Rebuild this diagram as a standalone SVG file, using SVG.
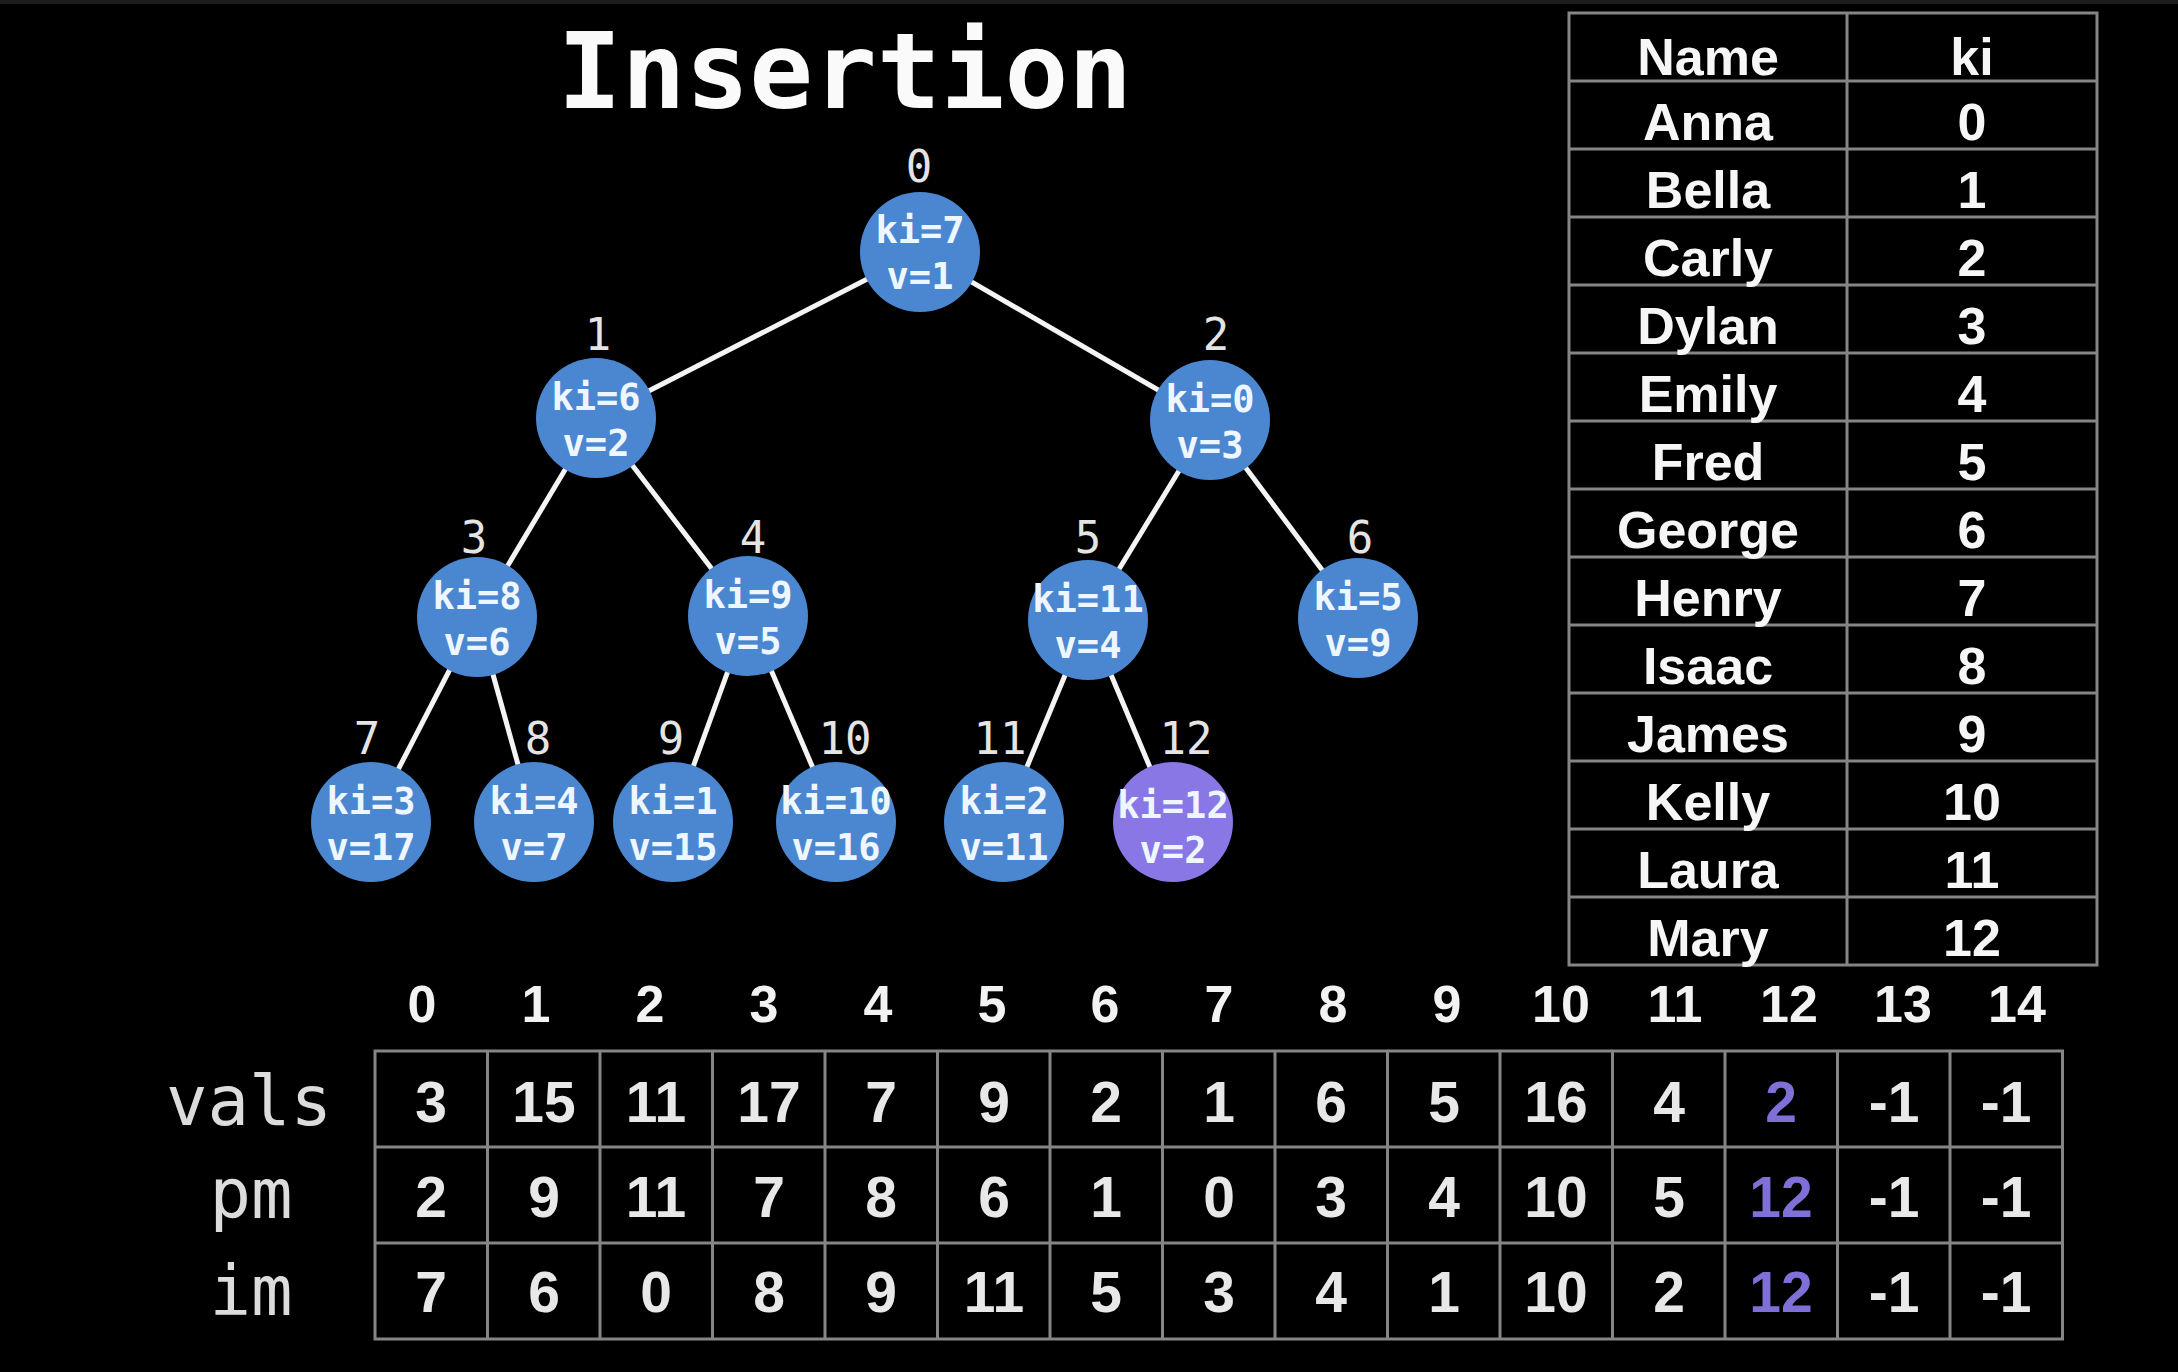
<svg xmlns="http://www.w3.org/2000/svg" width="2178" height="1372" viewBox="0 0 2178 1372">
<style>
.bg{fill:#000}
.title{font-family:"DejaVu Sans Mono","Liberation Mono",monospace;font-weight:bold;font-size:106px;fill:#fafafa;text-anchor:middle}
.edge{stroke:#f4f4f4;stroke-width:5;fill:none}
.node{fill:#4A87D0}
.node.hi{fill:#8877E4}
.nt{font-family:"DejaVu Sans Mono","Liberation Mono",monospace;font-weight:bold;font-size:37px;fill:#eef6ff;text-anchor:middle}
.idx{font-family:"DejaVu Sans Mono","Liberation Mono",monospace;font-size:44px;fill:#e4e4e4;text-anchor:middle}
.grid{stroke:#858585;stroke-width:3;fill:none}
.tt{font-family:"Liberation Sans",Arial,sans-serif;font-weight:bold;font-size:52px;fill:#f6f6f6;text-anchor:middle}
.rl{font-family:"DejaVu Sans Mono","Liberation Mono",monospace;font-size:69px;fill:#dcdcdc;text-anchor:middle}
.ai{font-family:"Liberation Sans",Arial,sans-serif;font-weight:bold;font-size:52px;fill:#f2f2f2;text-anchor:middle}
.av{font-family:"Liberation Sans",Arial,sans-serif;font-weight:bold;font-size:57px;fill:#e8e8e8;text-anchor:middle}
.pu{fill:#7F70D8}
</style>
<rect class="bg" x="0" y="0" width="2178" height="1372"/>
<rect x="0" y="0" width="2178" height="4" fill="#1c1c1c"/>
<g id="title"><text class="title" x="845" y="108">Insertion</text></g>
<g id="connectors">
<line class="edge" x1="920" y1="252" x2="596" y2="418"/>
<line class="edge" x1="920" y1="252" x2="1210" y2="420"/>
<line class="edge" x1="596" y1="418" x2="477" y2="617"/>
<line class="edge" x1="596" y1="418" x2="748" y2="616"/>
<line class="edge" x1="1210" y1="420" x2="1088" y2="620"/>
<line class="edge" x1="1210" y1="420" x2="1358" y2="618"/>
<line class="edge" x1="477" y1="617" x2="371" y2="822"/>
<line class="edge" x1="477" y1="617" x2="534" y2="822"/>
<line class="edge" x1="748" y1="616" x2="673" y2="822"/>
<line class="edge" x1="748" y1="616" x2="836" y2="822"/>
<line class="edge" x1="1088" y1="620" x2="1004" y2="822"/>
<line class="edge" x1="1088" y1="620" x2="1173" y2="822"/>
</g>
<g id="node-0"><text class="idx" x="919" y="182">0</text><circle class="node" cx="920" cy="252" r="60"/><text class="nt" x="920" y="243">ki=7</text><text class="nt" x="920" y="289">v=1</text></g>
<g id="node-1"><text class="idx" x="598" y="350">1</text><circle class="node" cx="596" cy="418" r="60"/><text class="nt" x="596" y="410">ki=6</text><text class="nt" x="596" y="456">v=2</text></g>
<g id="node-2"><text class="idx" x="1216" y="350">2</text><circle class="node" cx="1210" cy="420" r="60"/><text class="nt" x="1210" y="412">ki=0</text><text class="nt" x="1210" y="458">v=3</text></g>
<g id="node-3"><text class="idx" x="474" y="553">3</text><circle class="node" cx="477" cy="617" r="60"/><text class="nt" x="477" y="609">ki=8</text><text class="nt" x="477" y="655">v=6</text></g>
<g id="node-4"><text class="idx" x="753" y="553">4</text><circle class="node" cx="748" cy="616" r="60"/><text class="nt" x="748" y="608">ki=9</text><text class="nt" x="748" y="654">v=5</text></g>
<g id="node-5"><text class="idx" x="1088" y="553">5</text><circle class="node" cx="1088" cy="620" r="60"/><text class="nt" x="1088" y="612">ki=11</text><text class="nt" x="1088" y="658">v=4</text></g>
<g id="node-6"><text class="idx" x="1360" y="553">6</text><circle class="node" cx="1358" cy="618" r="60"/><text class="nt" x="1358" y="610">ki=5</text><text class="nt" x="1358" y="656">v=9</text></g>
<g id="node-7"><text class="idx" x="367" y="754">7</text><circle class="node" cx="371" cy="822" r="60"/><text class="nt" x="371" y="814">ki=3</text><text class="nt" x="371" y="860">v=17</text></g>
<g id="node-8"><text class="idx" x="538" y="754">8</text><circle class="node" cx="534" cy="822" r="60"/><text class="nt" x="534" y="814">ki=4</text><text class="nt" x="534" y="860">v=7</text></g>
<g id="node-9"><text class="idx" x="671" y="754">9</text><circle class="node" cx="673" cy="822" r="60"/><text class="nt" x="673" y="814">ki=1</text><text class="nt" x="673" y="860">v=15</text></g>
<g id="node-10"><text class="idx" x="845" y="754">10</text><circle class="node" cx="836" cy="822" r="60"/><text class="nt" x="836" y="814">ki=10</text><text class="nt" x="836" y="860">v=16</text></g>
<g id="node-11"><text class="idx" x="1000" y="754">11</text><circle class="node" cx="1004" cy="822" r="60"/><text class="nt" x="1004" y="814">ki=2</text><text class="nt" x="1004" y="860">v=11</text></g>
<g id="node-12"><text class="idx" x="1186" y="754">12</text><circle class="node hi" cx="1173" cy="822" r="60"/><text class="nt" x="1173" y="818">ki=12</text><text class="nt" x="1173" y="863">v=2</text></g>
<g id="name-table">
<rect class="grid" x="1569" y="13" width="528" height="952"/>
<line class="grid" x1="1847" y1="13" x2="1847" y2="965"/>
<line class="grid" x1="1569" y1="81" x2="2097" y2="81"/>
<line class="grid" x1="1569" y1="149" x2="2097" y2="149"/>
<line class="grid" x1="1569" y1="217" x2="2097" y2="217"/>
<line class="grid" x1="1569" y1="285" x2="2097" y2="285"/>
<line class="grid" x1="1569" y1="353" x2="2097" y2="353"/>
<line class="grid" x1="1569" y1="421" x2="2097" y2="421"/>
<line class="grid" x1="1569" y1="489" x2="2097" y2="489"/>
<line class="grid" x1="1569" y1="557" x2="2097" y2="557"/>
<line class="grid" x1="1569" y1="625" x2="2097" y2="625"/>
<line class="grid" x1="1569" y1="693" x2="2097" y2="693"/>
<line class="grid" x1="1569" y1="761" x2="2097" y2="761"/>
<line class="grid" x1="1569" y1="829" x2="2097" y2="829"/>
<line class="grid" x1="1569" y1="897" x2="2097" y2="897"/>
<text class="tt" x="1708" y="75">Name</text><text class="tt" x="1972" y="75">ki</text>
<text class="tt" x="1708" y="140">Anna</text><text class="tt" x="1972" y="140">0</text>
<text class="tt" x="1708" y="208">Bella</text><text class="tt" x="1972" y="208">1</text>
<text class="tt" x="1708" y="276">Carly</text><text class="tt" x="1972" y="276">2</text>
<text class="tt" x="1708" y="344">Dylan</text><text class="tt" x="1972" y="344">3</text>
<text class="tt" x="1708" y="412">Emily</text><text class="tt" x="1972" y="412">4</text>
<text class="tt" x="1708" y="480">Fred</text><text class="tt" x="1972" y="480">5</text>
<text class="tt" x="1708" y="548">George</text><text class="tt" x="1972" y="548">6</text>
<text class="tt" x="1708" y="616">Henry</text><text class="tt" x="1972" y="616">7</text>
<text class="tt" x="1708" y="684">Isaac</text><text class="tt" x="1972" y="684">8</text>
<text class="tt" x="1708" y="752">James</text><text class="tt" x="1972" y="752">9</text>
<text class="tt" x="1708" y="820">Kelly</text><text class="tt" x="1972" y="820">10</text>
<text class="tt" x="1708" y="888">Laura</text><text class="tt" x="1972" y="888">11</text>
<text class="tt" x="1708" y="956">Mary</text><text class="tt" x="1972" y="956">12</text>
</g>
<g id="array-table">
<text class="rl" x="249" y="1125">vals</text>
<text class="rl" x="251" y="1218">pm</text>
<text class="rl" x="251" y="1315">im</text>
<g id="array-index">
<text class="ai" x="422" y="1022">0</text><text class="ai" x="536" y="1022">1</text><text class="ai" x="650" y="1022">2</text><text class="ai" x="764" y="1022">3</text><text class="ai" x="878" y="1022">4</text><text class="ai" x="992" y="1022">5</text><text class="ai" x="1105" y="1022">6</text><text class="ai" x="1219" y="1022">7</text><text class="ai" x="1333" y="1022">8</text><text class="ai" x="1447" y="1022">9</text><text class="ai" x="1561" y="1022">10</text><text class="ai" x="1675" y="1022">11</text><text class="ai" x="1789" y="1022">12</text><text class="ai" x="1903" y="1022">13</text><text class="ai" x="2017" y="1022">14</text>
</g>
<rect class="grid" x="375" y="1051" width="1687.5" height="288"/>
<line class="grid" x1="375" y1="1147" x2="2062.5" y2="1147"/>
<line class="grid" x1="375" y1="1243" x2="2062.5" y2="1243"/>
<line class="grid" x1="487.5" y1="1051" x2="487.5" y2="1339"/>
<line class="grid" x1="600" y1="1051" x2="600" y2="1339"/>
<line class="grid" x1="712.5" y1="1051" x2="712.5" y2="1339"/>
<line class="grid" x1="825" y1="1051" x2="825" y2="1339"/>
<line class="grid" x1="937.5" y1="1051" x2="937.5" y2="1339"/>
<line class="grid" x1="1050" y1="1051" x2="1050" y2="1339"/>
<line class="grid" x1="1162.5" y1="1051" x2="1162.5" y2="1339"/>
<line class="grid" x1="1275" y1="1051" x2="1275" y2="1339"/>
<line class="grid" x1="1387.5" y1="1051" x2="1387.5" y2="1339"/>
<line class="grid" x1="1500" y1="1051" x2="1500" y2="1339"/>
<line class="grid" x1="1612.5" y1="1051" x2="1612.5" y2="1339"/>
<line class="grid" x1="1725" y1="1051" x2="1725" y2="1339"/>
<line class="grid" x1="1837.5" y1="1051" x2="1837.5" y2="1339"/>
<line class="grid" x1="1950" y1="1051" x2="1950" y2="1339"/>
<g id="row-vals">
<text class="av" x="431" y="1122">3</text><text class="av" x="544" y="1122">15</text><text class="av" x="656" y="1122">11</text><text class="av" x="769" y="1122">17</text><text class="av" x="881" y="1122">7</text><text class="av" x="994" y="1122">9</text><text class="av" x="1106" y="1122">2</text><text class="av" x="1219" y="1122">1</text><text class="av" x="1331" y="1122">6</text><text class="av" x="1444" y="1122">5</text><text class="av" x="1556" y="1122">16</text><text class="av" x="1669" y="1122">4</text><text class="av pu" x="1781" y="1122">2</text><text class="av" x="1894" y="1122">-1</text><text class="av" x="2006" y="1122">-1</text>
</g>
<g id="row-pm">
<text class="av" x="431" y="1217">2</text><text class="av" x="544" y="1217">9</text><text class="av" x="656" y="1217">11</text><text class="av" x="769" y="1217">7</text><text class="av" x="881" y="1217">8</text><text class="av" x="994" y="1217">6</text><text class="av" x="1106" y="1217">1</text><text class="av" x="1219" y="1217">0</text><text class="av" x="1331" y="1217">3</text><text class="av" x="1444" y="1217">4</text><text class="av" x="1556" y="1217">10</text><text class="av" x="1669" y="1217">5</text><text class="av pu" x="1781" y="1217">12</text><text class="av" x="1894" y="1217">-1</text><text class="av" x="2006" y="1217">-1</text>
</g>
<g id="row-im">
<text class="av" x="431" y="1312">7</text><text class="av" x="544" y="1312">6</text><text class="av" x="656" y="1312">0</text><text class="av" x="769" y="1312">8</text><text class="av" x="881" y="1312">9</text><text class="av" x="994" y="1312">11</text><text class="av" x="1106" y="1312">5</text><text class="av" x="1219" y="1312">3</text><text class="av" x="1331" y="1312">4</text><text class="av" x="1444" y="1312">1</text><text class="av" x="1556" y="1312">10</text><text class="av" x="1669" y="1312">2</text><text class="av pu" x="1781" y="1312">12</text><text class="av" x="1894" y="1312">-1</text><text class="av" x="2006" y="1312">-1</text>
</g>
</g>
</svg>
